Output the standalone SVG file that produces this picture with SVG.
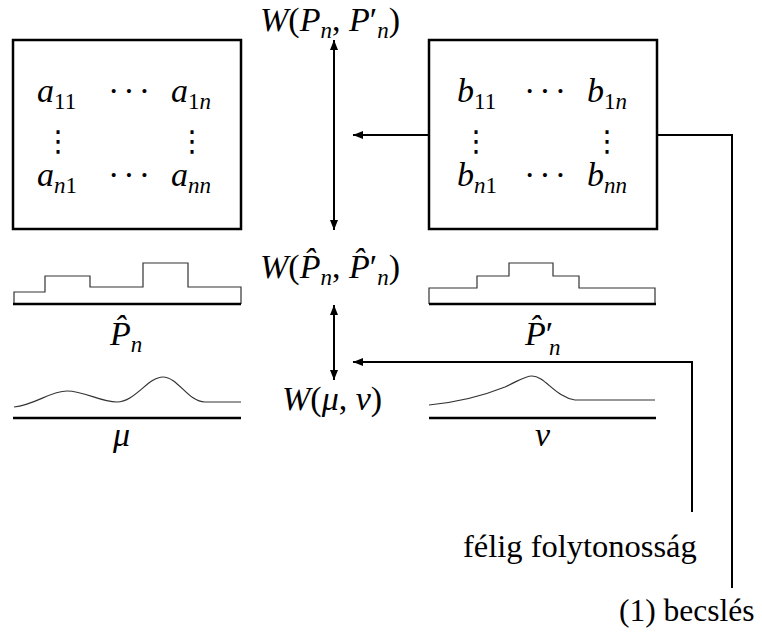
<svg xmlns="http://www.w3.org/2000/svg" width="762" height="633" viewBox="0 0 762 633">
<style>
text{font-family:"Liberation Serif","Times New Roman",serif;fill:#000}
.m{font-size:34px}
.i{font-style:italic}
.s{font-size:23px}
.d{font-family:"DejaVu Serif","DejaVu Sans",serif;font-size:29px;text-anchor:middle}
.c{font-size:34px;letter-spacing:4px}
.lbl{font-size:32.5px}
.box{fill:#fff;stroke:#000;stroke-width:2.5}
.thin{fill:none;stroke:#333;stroke-width:1.2}
.base{stroke:#000;stroke-width:2.5}
.con{fill:none;stroke:#000;stroke-width:2}
</style>
<defs>
<marker id="ah" viewBox="0 0 10 8" refX="10" refY="4" markerWidth="10" markerHeight="8" markerUnits="userSpaceOnUse" orient="auto-start-reverse">
<path d="M0,0 L10,4 L0,8 z" fill="#000"/>
</marker>
</defs>

<g id="matrixA">
<rect class="box" x="13" y="40" width="228" height="189"/>
<text class="m" y="102"><tspan x="37" class="i">a</tspan><tspan class="s" dy="7">11</tspan></text>
<text class="c" x="108" y="102">···</text>
<text class="m" y="102"><tspan x="171" class="i">a</tspan><tspan class="s" dy="7">1</tspan><tspan class="s i">n</tspan></text>
<text class="d" x="58" y="151">⋮</text>
<text class="d" x="192" y="151">⋮</text>
<text class="m" y="186"><tspan x="37" class="i">a</tspan><tspan class="s i" dy="7">n</tspan><tspan class="s">1</tspan></text>
<text class="c" x="108" y="186">···</text>
<text class="m" y="186"><tspan x="171" class="i">a</tspan><tspan class="s i" dy="7">nn</tspan></text>
</g>

<g id="matrixB">
<rect class="box" x="429" y="40" width="228" height="189"/>
<text class="m" y="102"><tspan x="457" class="i">b</tspan><tspan class="s" dy="7">11</tspan></text>
<text class="c" x="524" y="102">···</text>
<text class="m" y="102"><tspan x="587" class="i">b</tspan><tspan class="s" dy="7">1</tspan><tspan class="s i">n</tspan></text>
<text class="d" x="476" y="151">⋮</text>
<text class="d" x="607" y="151">⋮</text>
<text class="m" y="186"><tspan x="457" class="i">b</tspan><tspan class="s i" dy="7">n</tspan><tspan class="s">1</tspan></text>
<text class="c" x="524" y="186">···</text>
<text class="m" y="186"><tspan x="587" class="i">b</tspan><tspan class="s i" dy="7">nn</tspan></text>
</g>

<g id="W_P">
<text class="m" y="31"><tspan x="260" class="i">W</tspan><tspan>(</tspan><tspan class="i">P</tspan><tspan class="s i" dy="7">n</tspan><tspan dy="-7">, </tspan><tspan class="i">P</tspan><tspan>′</tspan><tspan class="s i" dy="7">n</tspan><tspan dy="-7">)</tspan></text>
</g>

<g id="W_Phat">
<text class="m" y="278"><tspan x="260" class="i">W</tspan><tspan>(</tspan><tspan class="i">P̂</tspan><tspan class="s i" dy="7">n</tspan><tspan dy="-7">, </tspan><tspan class="i">P̂</tspan><tspan>′</tspan><tspan class="s i" dy="7">n</tspan><tspan dy="-7">)</tspan></text>
</g>

<g id="W_mu">
<text class="m" y="410"><tspan x="282" class="i">W</tspan><tspan>(</tspan><tspan class="i">μ</tspan><tspan>, </tspan><tspan class="i">ν</tspan><tspan>)</tspan></text>
</g>

<g id="Phat_n">
<polyline class="thin" points="14,304 14,292 45,292 45,276 90,276 90,287 143,287 143,263 188,263 188,287 241,287 241,304"/>
<line class="base" x1="13" y1="304" x2="241" y2="304"/>
<text class="m" y="345"><tspan x="110" class="i">P̂</tspan><tspan class="s i" dy="7">n</tspan></text>
</g>

<g id="Phat_n_prime">
<polyline class="thin" points="429,304 429,288 477,288 477,276 509,276 509,263 553,263 553,276 579,276 579,288 655,288 655,304"/>
<line class="base" x1="429" y1="304" x2="656" y2="304"/>
<text class="m" y="345"><tspan x="525" class="i">P̂</tspan><tspan>′</tspan><tspan class="s i" x="549" dy="10">n</tspan></text>
</g>

<g id="mu">
<path class="thin" d="M14,407 C35,405 50,391 67,391 C85,391 100,402 117,402 C135,402 148,377 163,377 C178,377 188,402 205,402 L241,402"/>
<line class="base" x1="13" y1="418" x2="241" y2="418"/>
<text class="m i" x="113" y="446">μ</text>
</g>

<g id="nu">
<path class="thin" d="M429,405 C460,402 485,395 505,387 C520,380 525,376 532,376 C545,376 555,397 575,400 L655,400"/>
<line class="base" x1="429" y1="418" x2="656" y2="418"/>
<text class="m i" x="535" y="446">ν</text>
</g>

<g id="lbl_felig">
<text class="lbl" x="463" y="557">félig folytonosság</text>
</g>
<g id="lbl_becsles">
<text class="lbl" x="619" y="621" style="font-size:31.5px">(1) becslés</text>
</g>

<g id="connectors">
<line class="con" x1="334" y1="40" x2="334" y2="230" marker-start="url(#ah)" marker-end="url(#ah)"/>
<path class="con" d="M429,135 H353" marker-end="url(#ah)"/>
<path class="con" d="M657,135 H732 V588"/>
<line class="con" x1="334" y1="305" x2="334" y2="380" marker-start="url(#ah)" marker-end="url(#ah)"/>
<path class="con" d="M692,512 V362 H353" marker-end="url(#ah)"/>
</g>
</svg>
